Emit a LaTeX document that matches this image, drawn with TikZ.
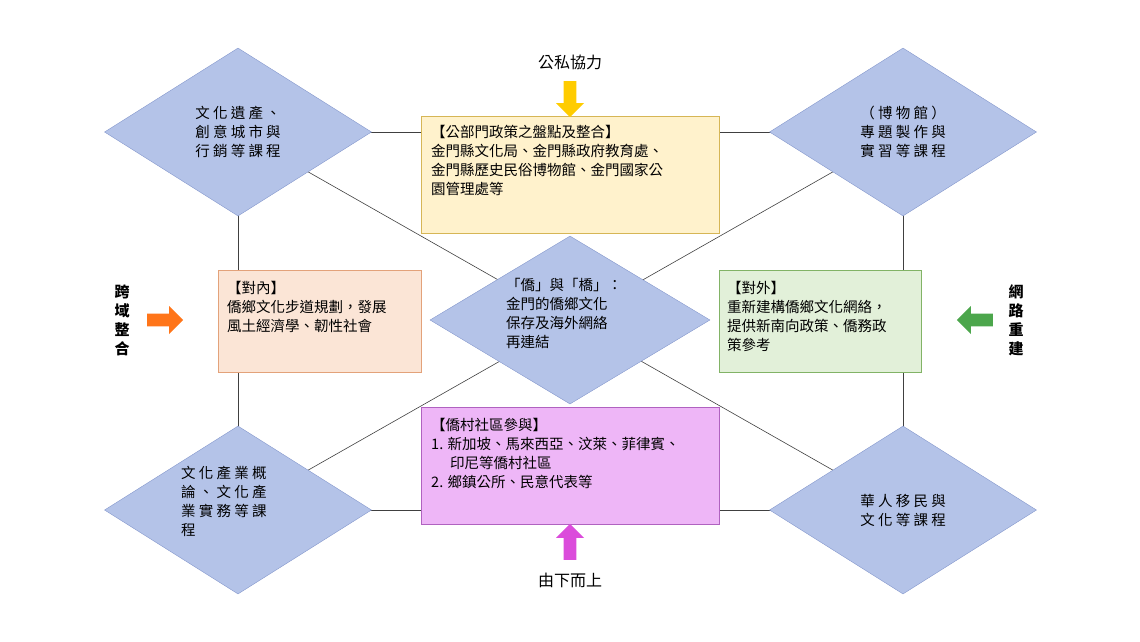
\documentclass[tikz,border=0pt]{standalone}
\usepackage{fontspec}
\setmainfont{Noto Sans CJK TC}
\usetikzlibrary{shapes.geometric,shapes.arrows}
\definecolor{dfill}{HTML}{B4C3E8}
\definecolor{ddraw}{HTML}{8497CC}
\definecolor{yfill}{HTML}{FFF2CC}\definecolor{ydraw}{HTML}{D6B656}
\definecolor{ofill}{HTML}{FBE5D6}\definecolor{odraw}{HTML}{E3A27A}
\definecolor{gfill}{HTML}{E2F0D9}\definecolor{gdraw}{HTML}{82B366}
\definecolor{pfill}{HTML}{EEB6F7}\definecolor{pdraw}{HTML}{B062C0}
\begin{document}
\begin{tikzpicture}[x=1pt,y=-1pt,
  every node/.style={font=\fontsize{14.5}{19}\selectfont},
  dia/.style={diamond,draw=ddraw,fill=dfill,minimum width=267pt,minimum height=168pt,inner sep=0pt,shape aspect=1.59},
  box/.style={draw,inner sep=0pt,anchor=north west},
  txt/.style={align=left,anchor=north west,inner sep=0pt},
  ln/.style={draw=black!75,line width=0.6pt},
  barrow/.style={single arrow,minimum width=28pt,single arrow head extend=5pt,minimum height=36pt,inner xsep=0pt,inner ysep=4pt,draw=none,font=\fontsize{6}{6}\selectfont}]
\useasboundingbox (0,0) rectangle (1140,641);
\coordinate (tl) at (238,132); \coordinate (tr) at (903,132);
\coordinate (bl) at (238,510); \coordinate (br) at (903,510);
\draw[ln] (tl) -- (br); \draw[ln] (bl) -- (tr);
\draw[ln] (tl) -- (tr); \draw[ln] (bl) -- (br);
\draw[ln] (tl) -- (bl); \draw[ln] (tr) -- (br);
\node[box,fill=yfill,draw=ydraw,minimum width=298pt,minimum height=117pt] (ybox) at (421,116) {};
\node[box,fill=ofill,draw=odraw,minimum width=203pt,minimum height=102pt] (obox) at (218,270) {};
\node[box,fill=gfill,draw=gdraw,minimum width=202pt,minimum height=102pt] (gbox) at (719,270) {};
\node[box,fill=pfill,draw=pdraw,minimum width=298pt,minimum height=117pt] (pbox) at (421,407) {};
\node[dia] (dtl) at (238,132) {};
\node[dia] (dtr) at (903,132) {};
\node[dia] (dbl) at (238,510) {};
\node[dia] (dbr) at (903,510) {};
\node[dia,minimum width=280pt] (dc) at (570,320) {};
\node[align=center] (ttl) at (238,132) {文 化 遺 產 、\\創 意 城 市 與\\行 銷 等 課 程};
\node[align=center] (ttr) at (903,132) {（ 博 物 館 ）\\專 題 製 作 與\\實 習 等 課 程};
\node[txt] (tbl) at (181,466) {文 化 產 業 概\\論 、 文 化 產\\業 實 務 等 課\\程};
\node[align=center] (tbr) at (903,510) {華 人 移 民 與\\文 化 等 課 程};
\node[txt] (tc) at (506,278) {「僑」與「橋」：\\金門的僑鄉文化\\保存及海外網絡\\再連結};
\node[txt] (ty) at (431,125) {【公部門政策之盤點及整合】\\金門縣文化局、金門縣政府教育處、\\金門縣歷史民俗博物館、金門國家公\\園管理處等};
\node[txt] (to) at (227,281) {【對內】\\僑鄉文化步道規劃，發展\\風土經濟學、韌性社會};
\node[txt] (tg) at (727,281) {【對外】\\重新建構僑鄉文化網絡，\\提供新南向政策、僑務政\\策參考};
\node[txt] (tp) at (431,418) {【僑村社區參與】\\1. 新加坡、馬來西亞、汶萊、菲律賓、\\\hspace*{1.3em}印尼等僑村社區\\2. 鄉鎮公所、民意代表等};
\node[font=\fontsize{16}{19}\selectfont] (lt) at (570,62) {公私協力};
\node[barrow,fill=orange!40!yellow,rotate=-90] (at) at (570,96) {};
\node[font=\fontsize{16}{19}\selectfont] (lb) at (570,580) {由下而上};
\node[barrow,fill=violet!40!magenta!70!white,rotate=90] (ab) at (570,545) {};
\node[align=center,font=\fontsize{15}{19}\selectfont\bfseries] (ll) at (122,320) {跨\\域\\整\\合};
\node[barrow,fill=orange!80!red!90!white] (al) at (162,320) {};
\node[align=center,font=\fontsize{15}{19}\selectfont\bfseries] (lr) at (1016,320) {網\\路\\重\\建};
\node[barrow,fill=green!50!black!70!white,rotate=180] (ar) at (978,320) {};
\end{tikzpicture}
\end{document}
